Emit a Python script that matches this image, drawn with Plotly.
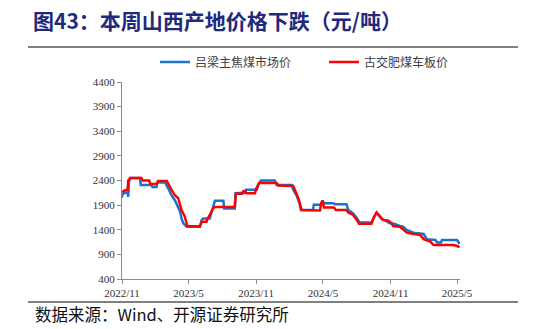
import plotly.graph_objects as go

# 吕梁主焦煤市场价 (blue)
lvliang_dates = [
    "2022-11-01", "2022-11-02", "2022-11-09", "2022-11-16", "2022-11-18", "2022-11-20", "2022-11-25",
    "2022-12-20", "2022-12-22", "2023-01-20", "2023-01-23", "2023-02-03", "2023-02-05", "2023-02-26",
    "2023-03-07", "2023-03-16", "2023-03-25", "2023-04-01", "2023-04-08", "2023-04-12", "2023-04-17",
    "2023-04-26", "2023-06-01", "2023-06-06", "2023-06-10", "2023-06-28", "2023-07-03", "2023-07-10",
    "2023-07-12", "2023-08-04", "2023-08-06", "2023-09-04", "2023-09-06", "2023-10-02", "2023-10-04",
    "2023-11-03", "2023-11-07", "2023-11-14", "2023-12-22", "2023-12-27", "2024-02-06", "2024-02-10",
    "2024-02-19", "2024-02-27", "2024-03-02", "2024-04-04", "2024-04-06", "2024-04-25", "2024-04-30",
    "2024-05-04", "2024-05-28", "2024-06-03", "2024-07-04", "2024-07-09", "2024-07-22", "2024-07-31",
    "2024-08-09", "2024-09-10", "2024-09-17", "2024-09-24", "2024-10-08", "2024-10-15", "2024-10-30",
    "2024-11-13", "2024-11-26", "2024-12-05", "2024-12-15", "2025-01-02", "2025-01-30", "2025-02-08",
    "2025-03-03", "2025-03-08", "2025-03-18", "2025-03-21", "2025-05-01", "2025-05-05", "2025-05-08",
]
lvliang_values = [
    2050, 2120, 2150, 2150, 2070, 2380, 2450,
    2450, 2310, 2310, 2270, 2270, 2360, 2360,
    2240, 2100, 2000, 1870, 1770, 1630, 1530,
    1460, 1460, 1600, 1630, 1630, 1780, 1990,
    1990, 1990, 1830, 1830, 2140, 2150, 2210,
    2210, 2310, 2400, 2400, 2310, 2310, 2210,
    2100, 1940, 1800, 1800, 1910, 1910, 1990,
    1940, 1940, 1920, 1920, 1800, 1730, 1650,
    1545, 1545, 1665, 1750, 1610, 1600, 1530,
    1516, 1476, 1462, 1395, 1340, 1313, 1206,
    1192, 1140, 1140, 1190, 1190, 1140, 1110,
]

# 古交肥煤车板价 (red)
gujiao_dates = [
    "2022-11-01", "2022-11-09", "2022-11-16", "2022-11-18", "2022-11-23", "2022-12-24", "2022-12-27",
    "2023-01-14", "2023-01-17", "2023-02-04", "2023-02-07", "2023-03-03", "2023-03-16", "2023-03-25",
    "2023-04-03", "2023-04-12", "2023-04-21", "2023-04-28", "2023-06-01", "2023-06-06", "2023-06-19",
    "2023-06-22", "2023-06-28", "2023-07-07", "2023-07-12", "2023-09-04", "2023-09-07", "2023-09-24",
    "2023-09-27", "2023-10-02", "2023-10-06", "2023-10-29", "2023-11-01", "2023-11-09", "2023-12-27",
    "2023-12-31", "2024-02-10", "2024-02-15", "2024-02-24", "2024-03-04", "2024-04-23", "2024-04-26",
    "2024-04-30", "2024-05-04", "2024-05-31", "2024-06-05", "2024-07-04", "2024-07-09", "2024-07-22",
    "2024-07-31", "2024-08-07", "2024-09-10", "2024-09-17", "2024-09-24", "2024-10-03", "2024-10-12",
    "2024-10-26", "2024-11-04", "2024-11-08", "2024-11-26", "2024-12-05", "2024-12-15", "2025-01-02",
    "2025-01-21", "2025-01-30", "2025-02-17", "2025-02-26", "2025-04-22", "2025-05-01", "2025-05-08",
]
gujiao_values = [
    2160, 2200, 2200, 2400, 2450, 2450, 2400,
    2400, 2330, 2330, 2390, 2390, 2210, 2100,
    2040, 1800, 1665, 1470, 1470, 1560, 1560,
    1630, 1700, 1840, 1860, 1860, 2130, 2130,
    2180, 2180, 2140, 2140, 2230, 2350, 2350,
    2300, 2290, 2210, 2040, 1800, 1790, 1940,
    1990, 1850, 1850, 1800, 1800, 1750, 1700,
    1610, 1520, 1520, 1665, 1750, 1680, 1600,
    1585, 1530, 1476, 1462, 1410, 1340, 1315,
    1295, 1206, 1160, 1090, 1090, 1070, 1045,
]

y_ticks = [400, 900, 1400, 1900, 2400, 2900, 3400, 3900, 4400]
x_tick_vals = ["2022-11-01", "2023-05-01", "2023-11-01", "2024-05-01", "2024-11-01", "2025-05-01"]
x_tick_text = ["2022/11", "2023/5", "2023/11", "2024/5", "2024/11", "2025/5"]

fig = go.Figure()
fig.add_trace(go.Scatter(
    x=lvliang_dates, y=lvliang_values, mode="lines", name="吕梁主焦煤市场价",
    line=dict(color="#1874CD", width=2.5), legend="legend",
))
fig.add_trace(go.Scatter(
    x=gujiao_dates, y=gujiao_values, mode="lines", name="古交肥煤车板价",
    line=dict(color="#FF0000", width=2.5), legend="legend2",
))

L, R, T, B = 122, 460, 82, 279
W, H = 546, 329
pw, ph = R - L, B - T

def px(x):
    return (x - L) / pw

def py(y):
    return (B - y) / ph

legend_font = dict(family="Noto Sans CJK SC", size=12, color="#404040")

fig.update_layout(
    width=W, height=H,
    margin=dict(l=L, r=W - R, t=T, b=H - B, pad=0),
    paper_bgcolor="white", plot_bgcolor="white",
    title=dict(
        text="<b>图43：本周山西产地价格下跌（元/吨）</b>",
        x=33 / W, xref="container", xanchor="left",
        y=1 - 22 / H, yref="container", yanchor="middle",
        font=dict(family="Noto Sans CJK SC", size=21, color="#1f2a7c"),
    ),
    showlegend=True,
    legend=dict(
        orientation="h", x=px(155), y=py(62), xanchor="left", yanchor="middle",
        font=legend_font, bgcolor="rgba(0,0,0,0)",
    ),
    legend2=dict(
        orientation="h", x=px(324), y=py(62), xanchor="left", yanchor="middle",
        font=legend_font, bgcolor="rgba(0,0,0,0)",
    ),
    xaxis=dict(
        type="date", range=["2022-11-01", "2025-05-09"],
        tickvals=x_tick_vals, ticktext=x_tick_text,
        showline=True, linecolor="#8c8c8c", linewidth=1,
        ticks="outside", ticklen=4, tickcolor="#8c8c8c",
        showgrid=False, zeroline=False,
        tickfont=dict(family="Liberation Serif", size=11, color="#333333"),
    ),
    yaxis=dict(
        range=[400, 4400], tickvals=y_ticks,
        showline=True, linecolor="#8c8c8c", linewidth=1,
        ticks="outside", ticklen=4, tickcolor="#8c8c8c",
        showgrid=False, zeroline=False,
        tickfont=dict(family="Liberation Serif", size=11, color="#333333"),
    ),
    shapes=[
        dict(type="line", xref="paper", yref="paper", x0=px(28), x1=px(518), y0=py(47), y1=py(47),
             line=dict(color="#808080", width=2)),
        dict(type="line", xref="paper", yref="paper", x0=px(28), x1=px(518), y0=py(302), y1=py(302),
             line=dict(color="#808080", width=2)),
    ],
    annotations=[
        dict(text="数据来源：Wind、开源证券研究所", xref="paper", yref="paper",
             x=px(33), y=py(314), xanchor="left", yanchor="middle", showarrow=False,
             font=dict(family="Noto Sans CJK SC", size=16.5, color="#111111")),
    ],
)

fig.write_html("out.html")
